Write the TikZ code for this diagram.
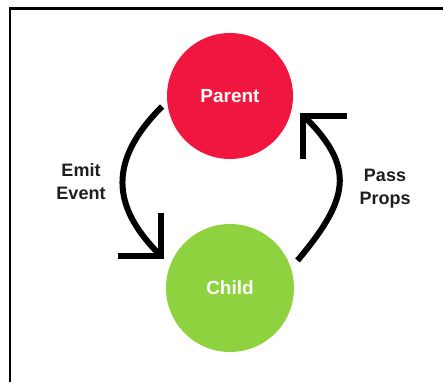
\documentclass[tikz,border=0pt]{standalone}
\usepackage{fontspec}
\setmainfont{Liberation Sans}
\usepackage{tikz}
\usetikzlibrary{arrows.meta}
\definecolor{nodered}{RGB}{240,22,63}
\definecolor{nodegreen}{RGB}{143,210,63}
\definecolor{lbltext}{RGB}{30,30,30}
\tikzset{
  parentnode/.style = {circle, minimum size=126pt, inner sep=0pt,
                       fill=nodered,   text=white, font=\fontsize{19}{23}\selectfont\bfseries},
  childnode/.style  = {circle, minimum size=128pt, inner sep=0pt,
                       fill=nodegreen, text=white, font=\fontsize{19}{23}\selectfont\bfseries},
  flowedge/.style   = {-{Straight Barb[length=31pt,width=62pt]}, line width=6pt, black},
  sidelbl/.style    = {align=center, text=lbltext, font=\fontsize{18}{23}\selectfont\bfseries}
}

\begin{document}
\begin{tikzpicture}[x=1pt, y=1pt]
  \useasboundingbox (0,0) rectangle (443,-382);
  % ---- frame ----
  \draw[line width=2.8pt] (443,-8.3) -| (10,-382);
  % ---- nodes ----
  \node[parentnode] (parent) at (230,-96)  {Parent};
  \node[childnode]  (child)  at (230,-288) {Child};
  % ---- side labels ----
  \node[sidelbl] (emit) at (81,-182)  {Emit\\Event};
  \node[sidelbl] (pass) at (385,-189) {Pass\\Props};
  % ---- edges ----
  \draw[flowedge, shorten <=7pt, shorten >=8pt]
    (parent.185) to[out=225, in=135, looseness=1.3] (child.159);
  \draw[flowedge, shorten <=10pt, shorten >=11pt]
    (child.18) to[out=50, in=-45, looseness=1.4] (parent.352);
\end{tikzpicture}
\end{document}
